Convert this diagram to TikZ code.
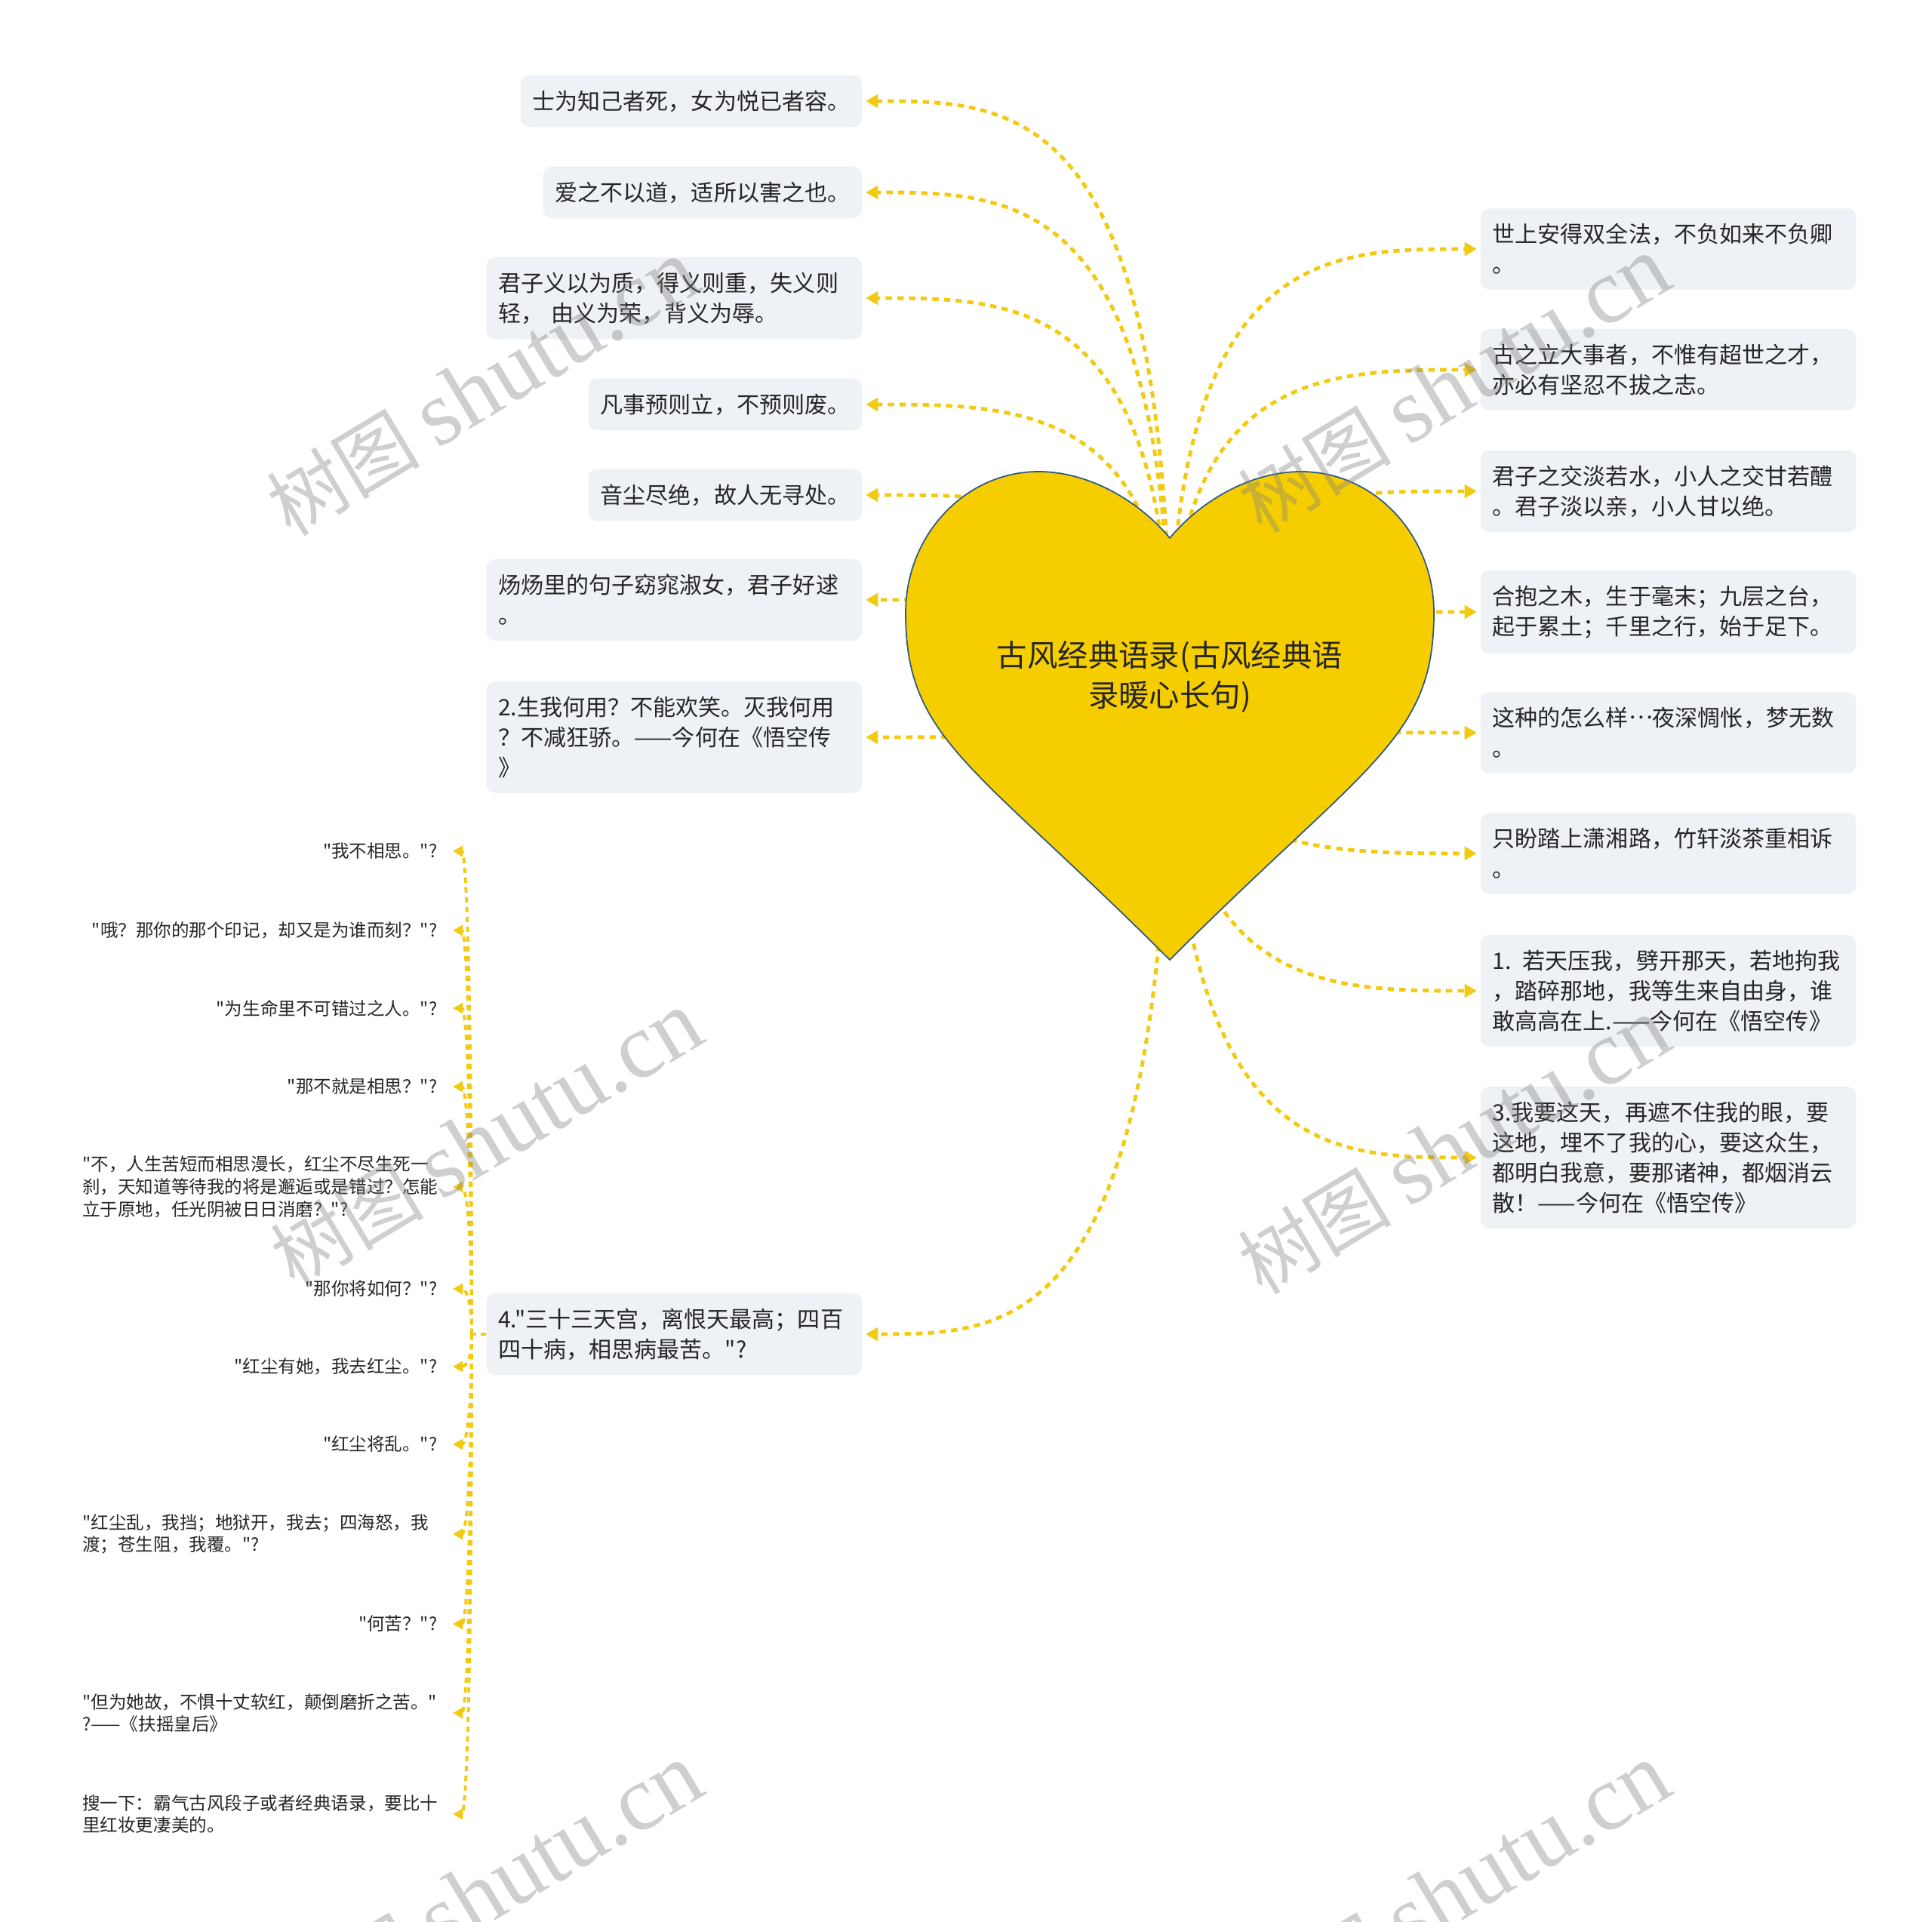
\documentclass[tikz,border=0pt]{standalone}
\usepackage{fontspec}
\newfontfamily\cjk{Noto Sans CJK SC}
\newfontfamily\latinserif{Liberation Serif}
\usepackage{xcolor}
\usetikzlibrary{arrows.meta,calc,positioning}
\definecolor{heartyellow}{RGB}{246,206,0}
\definecolor{linkyellow}{RGB}{243,202,18}
\definecolor{heartline}{RGB}{46,88,132}
\definecolor{boxgray}{RGB}{238,241,245}
\definecolor{inkgray}{RGB}{38,38,38}
\pgfdeclarelayer{bg}
\pgfsetlayers{bg,main}
\tikzset{
  quote/.style={rectangle, rounded corners=3.4pt, fill=boxgray, text=inkgray,
    inner xsep=0.16cm, inner ysep=0.2cm, align=left, font=\cjk\fontsize{8.55}{11.4}\selectfont},
  wide quote/.style={quote, text width=4.66cm},
  leaf/.style={text=inkgray, inner xsep=0.2cm, inner ysep=0.05cm, anchor=east,
    font=\cjk\fontsize{6.7}{8.5}\selectfont},
  wide leaf/.style={leaf, text width=4.7cm, align=left},
  curvy/.style={to path={.. controls (\tikztostart |- \tikztotarget)
    and ($(\tikztostart |- \tikztotarget)!0.5!(\tikztotarget)$) .. (\tikztotarget) \tikztonodes}},
  link/.style={curvy, draw=linkyellow, line width=1.4pt, dash pattern=on 2.4pt off 2pt,
    -{Triangle[length=4.6pt,width=5pt]}, shorten >=1.2pt},
  twig/.style={curvy, draw=linkyellow, line width=1.1pt, dash pattern=on 2pt off 1.7pt,
    -{Triangle[length=3.8pt,width=4pt]}},
  watermark/.style={text=black!50, text opacity=0.38, rotate=31, font=\cjk\fontsize{29}{29}\selectfont},
}
\newcommand{\middots}{\raisebox{0.33em}{…}}
\begin{document}
\begin{tikzpicture}[>=Latex]
\useasboundingbox (0,0) rectangle (25.60,-25.47);
% heart behind the title
\draw[heartline, line width=0.5pt, fill=heartyellow] (15.50,-7.13)
  .. controls (15.12,-6.67) and (14.46,-6.25) .. (13.76,-6.25)
  .. controls (12.79,-6.25) and (12.00,-7.09) .. (12.00,-8.12)
  .. controls (12.00,-9.80) and (12.88,-10.10) .. (15.50,-12.72)
  .. controls (18.12,-10.10) and (19.00,-9.80) .. (19.00,-8.12)
  .. controls (19.00,-7.09) and (18.21,-6.25) .. (17.24,-6.25)
  .. controls (16.54,-6.25) and (15.88,-6.67) .. (15.50,-7.13) -- cycle;
\node[text=inkgray, align=center, font=\cjk\fontsize{11.5}{15.0}\selectfont] (root) at (15.50,-8.97)
  {古风经典语录(古风经典语\\录暖心长句)};
% left quotes
\node[quote, anchor=east] (l1) at (11.43,-1.34) {士为知己者死，女为悦已者容。};
\node[quote, anchor=east] (l2) at (11.43,-2.55) {爱之不以道，适所以害之也。};
\node[wide quote, anchor=east] (l3) at (11.43,-3.95) {君子义以为质，得义则重，失义则\\轻， 由义为荣，背义为辱。};
\node[quote, anchor=east] (l4) at (11.43,-5.36) {凡事预则立，不预则废。};
\node[quote, anchor=east] (l5) at (11.43,-6.56) {音尘尽绝，故人无寻处。};
\node[wide quote, anchor=east] (l6) at (11.43,-7.95) {炀炀里的句子窈窕淑女，君子好逑\\。};
\node[wide quote, anchor=east] (l7) at (11.43,-9.77) {2.生我何用？不能欢笑。灭我何用\\？不减狂骄。——今何在《悟空传\\》};
\node[wide quote, anchor=east] (l8) at (11.43,-17.68) {4."三十三天宫，离恨天最高；四百\\四十病，相思病最苦。"?};
% right quotes
\node[wide quote, anchor=west] (r1) at (19.61,-3.30) {世上安得双全法，不负如来不负卿\\。};
\node[wide quote, anchor=west] (r2) at (19.61,-4.90) {古之立大事者，不惟有超世之才，\\亦必有坚忍不拔之志。};
\node[wide quote, anchor=west] (r3) at (19.61,-6.51) {君子之交淡若水，小人之交甘若醴\\。君子淡以亲，小人甘以绝。};
\node[wide quote, anchor=west] (r4) at (19.61,-8.11) {合抱之木，生于毫末；九层之台，\\起于累土；千里之行，始于足下。};
\node[wide quote, anchor=west] (r5) at (19.61,-9.71) {这种的怎么样\middots 夜深惆怅，梦无数\\。};
\node[wide quote, anchor=west] (r6) at (19.61,-11.31) {只盼踏上潇湘路，竹轩淡茶重相诉\\。};
\node[wide quote, anchor=west] (r7) at (19.61,-13.13) {1. 若天压我，劈开那天，若地拘我\\，踏碎那地，我等生来自由身，谁\\敢高高在上.——今何在《悟空传》};
\node[wide quote, anchor=west] (r8) at (19.61,-15.34) {3.我要这天，再遮不住我的眼，要\\这地，埋不了我的心，要这众生，\\都明白我意，要那诸神，都烟消云\\散！——今何在《悟空传》};
% lines of the fourth quote
\node[leaf] (s1) at (6.00,-11.28) {"我不相思。"?};
\node[leaf] (s2) at (6.00,-12.33) {"哦？那你的那个印记，却又是为谁而刻？"?};
\node[leaf] (s3) at (6.00,-13.36) {"为生命里不可错过之人。"?};
\node[leaf] (s4) at (6.00,-14.40) {"那不就是相思？"?};
\node[wide leaf] (s5) at (6.00,-15.73) {"不，人生苦短而相思漫长，红尘不尽生死一\\刹，天知道等待我的将是邂逅或是错过？怎能\\立于原地，任光阴被日日消磨？"?};
\node[leaf] (s6) at (6.00,-17.08) {"那你将如何？"?};
\node[leaf] (s7) at (6.00,-18.11) {"红尘有她，我去红尘。"?};
\node[leaf] (s8) at (6.00,-19.14) {"红尘将乱。"?};
\node[wide leaf] (s9) at (6.00,-20.33) {"红尘乱，我挡；地狱开，我去；四海怒，我\\渡；苍生阻，我覆。"?};
\node[leaf] (s10) at (6.00,-21.52) {"何苦？"?};
\node[wide leaf] (s11) at (6.00,-22.70) {"但为她故，不惧十丈软红，颠倒磨折之苦。"\\?——《扶摇皇后》};
\node[wide leaf] (s12) at (6.00,-24.04) {搜一下：霸气古风段子或者经典语录，要比十\\里红妆更凄美的。};
\coordinate (hub) at (6.25,-17.68);
% connectors go under the heart
\begin{pgfonlayer}{bg}
  \foreach \i in {1,...,8}{
    \draw[link] (root.center) to (l\i.east);
    \draw[link] (root.center) to (r\i.west);
  }
  \draw[twig, -] (l8.west) -- (hub);
  \foreach \i in {1,...,12}
    \draw[twig] (hub) to (s\i.east);
\end{pgfonlayer}
% site marks
\foreach \x/\y [count=\k] in {6.40/-5.14, 19.27/-5.10, 6.45/-15.10, 19.27/-15.19, 6.45/-25.07, 19.27/-25.07}
  \node[watermark] (wm\k) at (\x,\y) {树图 {\latinserif\fontsize{35}{35}\selectfont shutu.cn}};
\end{tikzpicture}
\end{document}
